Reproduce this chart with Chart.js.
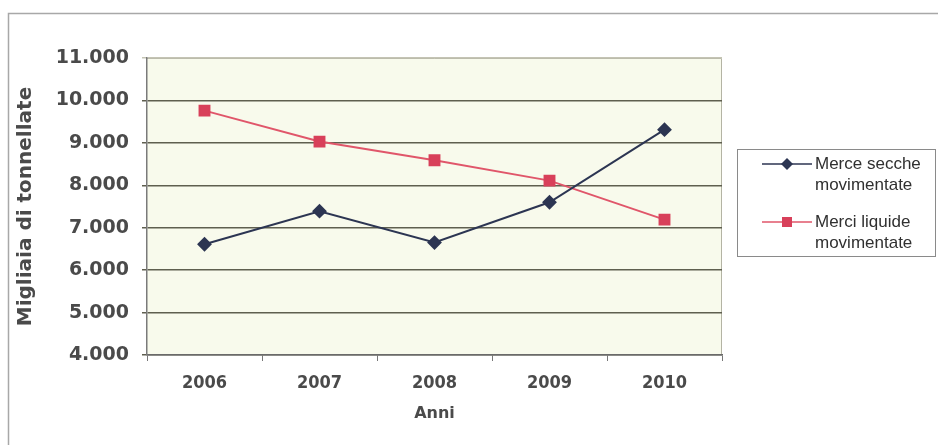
<!DOCTYPE html>
<html lang="it">
<head>
<meta charset="utf-8">
<title>Merci movimentate 2006-2010</title>
<script src="https://cdn.jsdelivr.net/npm/chart.js@4.4.1/dist/chart.umd.min.js"></script>
<style>
    html, body { margin: 0; padding: 0; background: #ffffff; }
    #wrap { position: relative; width: 938px; height: 445px; }
</style>
</head>
<body>
<div id="wrap"><canvas id="merciChart" width="938" height="445"></canvas></div>
<script>
// Data (migliaia di tonnellate)
const anni = ['2006', '2007', '2008', '2009', '2010'];
const merceSecche = [6610, 7390, 6650, 7600, 9310];
const merciLiquide = [9760, 9030, 8590, 8110, 7190];
const yTicks = [4000, 5000, 6000, 7000, 8000, 9000, 10000, 11000];

const colors = {
    secche: '#2c3552',
    liquide: '#e0566a',
    liquideMarker: '#d8405a',
    grid: '#5f5f4f',
    plotBg: '#f8faec',
    border: '#a8a8a8',
    text: '#4a4a4a'
};

// thousands separator with a dot
function formatMigliaia(v) {
    return String(v).replace(/\B(?=(\d{3})+(?!\d))/g, '.');
}

// background and light border of the plot area
const plotArea = {
    id: 'plotArea',
    beforeDraw(chart) {
        const { ctx, chartArea: a } = chart;
        ctx.save();
        ctx.fillStyle = colors.plotBg;
        ctx.fillRect(a.left, a.top, a.right - a.left, a.bottom - a.top);
        ctx.strokeStyle = '#b4b4a4';
        ctx.lineWidth = 1;
        ctx.beginPath();
        ctx.moveTo(a.left, a.top + 0.5);
        ctx.lineTo(a.right - 0.5, a.top + 0.5);
        ctx.lineTo(a.right - 0.5, a.bottom);
        ctx.stroke();
        // outer frame of the chart
        ctx.strokeStyle = colors.border;
        ctx.lineWidth = 1.5;
        ctx.beginPath();
        ctx.moveTo(8.5, chart.height);
        ctx.lineTo(8.5, 13.5);
        ctx.lineTo(chart.width, 13.5);
        ctx.stroke();
        ctx.restore();
    }
};

// boxed legend on the right, two-line labels
const boxLegend = {
    id: 'boxLegend',
    afterDraw(chart) {
        const { ctx } = chart;
        const x = 737, y = 149, w = 198, h = 107;
        ctx.save();
        ctx.strokeStyle = '#8a8a8a';
        ctx.lineWidth = 1;
        ctx.strokeRect(x + 0.5, y + 0.5, w, h);
        const items = [
            { lines: ['Merce secche', 'movimentate'], ds: chart.data.datasets[0], cy: 164 },
            { lines: ['Merci liquide', 'movimentate'], ds: chart.data.datasets[1], cy: 222 }
        ];
        items.forEach(it => {
            ctx.strokeStyle = it.ds.borderColor;
            ctx.lineWidth = 1.5;
            ctx.beginPath();
            ctx.moveTo(762, it.cy);
            ctx.lineTo(812, it.cy);
            ctx.stroke();
            ctx.fillStyle = it.ds.pointBackgroundColor;
            ctx.beginPath();
            if (it.ds.pointStyle === 'rectRot') {
                ctx.moveTo(787, it.cy - 6);
                ctx.lineTo(793, it.cy);
                ctx.lineTo(787, it.cy + 6);
                ctx.lineTo(781, it.cy);
                ctx.closePath();
            } else {
                ctx.rect(782, it.cy - 5, 10, 10);
            }
            ctx.fill();
            ctx.fillStyle = '#303030';
            ctx.font = '17px "Liberation Sans", Arial, sans-serif';
            ctx.textBaseline = 'middle';
            ctx.textAlign = 'left';
            ctx.fillText(it.lines[0], 815, it.cy);
            ctx.fillText(it.lines[1], 815, it.cy + 21);
        });
        ctx.restore();
    }
};

const ctx = document.getElementById('merciChart').getContext('2d');
const merciChart = new Chart(ctx, {
    type: 'line',
    data: {
        labels: anni,
        datasets: [{
            label: 'Merce secche movimentate',
            data: merceSecche,
            borderColor: colors.secche,
            backgroundColor: colors.secche,
            pointBackgroundColor: colors.secche,
            pointBorderColor: colors.secche,
            pointStyle: 'rectRot',
            pointRadius: 6,
            borderWidth: 2,
            tension: 0,
            fill: false
        }, {
            label: 'Merci liquide movimentate',
            data: merciLiquide,
            borderColor: colors.liquide,
            backgroundColor: colors.liquideMarker,
            pointBackgroundColor: colors.liquideMarker,
            pointBorderColor: colors.liquideMarker,
            pointStyle: 'rect',
            pointRadius: 7,
            borderWidth: 2,
            tension: 0,
            fill: false
        }]
    },
    options: {
        responsive: false,
        animation: false,
        devicePixelRatio: 1,
        layout: {
            padding: { left: 8, top: 58, right: 216, bottom: 22 }
        },
        scales: {
            x: {
                offset: true,
                grid: {
                    offset: true,
                    drawOnChartArea: false,
                    drawTicks: true,
                    tickLength: 6,
                    color: '#777'
                },
                border: { color: '#6a6a6a', width: 1.5 },
                ticks: {
                    color: colors.text,
                    padding: 12,
                    font: { family: '"DejaVu Sans Condensed", "DejaVu Sans", sans-serif', weight: 'bold', size: 18 }
                },
                title: {
                    display: true,
                    text: 'Anni',
                    color: colors.text,
                    padding: { top: 2, bottom: 0 },
                    font: { family: '"DejaVu Sans", sans-serif', weight: 'bold', size: 16 }
                },
                afterFit(scale) { scale.height = 68; }
            },
            y: {
                min: 4000,
                max: 11000,
                afterBuildTicks(scale) {
                    scale.ticks = yTicks.map(v => ({ value: v }));
                },
                grid: {
                    color: ctx => (ctx.tick && ctx.tick.value === 11000) ? '#c4c4b4' : colors.grid,
                    lineWidth: 1.5,
                    drawTicks: true,
                    tickLength: 5
                },
                border: { color: '#7a7a7a', width: 1.5 },
                ticks: {
                    color: colors.text,
                    padding: 13,
                    font: { family: '"DejaVu Sans", sans-serif', weight: 'bold', size: 19 },
                    callback: v => formatMigliaia(v)
                },
                title: {
                    display: true,
                    text: 'Migliaia di tonnellate',
                    color: colors.text,
                    padding: { top: 6, bottom: 6 },
                    font: { family: '"DejaVu Sans", sans-serif', weight: 'bold', size: 20 }
                },
                afterFit(scale) { scale.width = 139; }
            }
        },
        plugins: {
            legend: { display: false },
            tooltip: { enabled: false }
        }
    },
    plugins: [plotArea, boxLegend]
});
</script>
</body>
</html>
